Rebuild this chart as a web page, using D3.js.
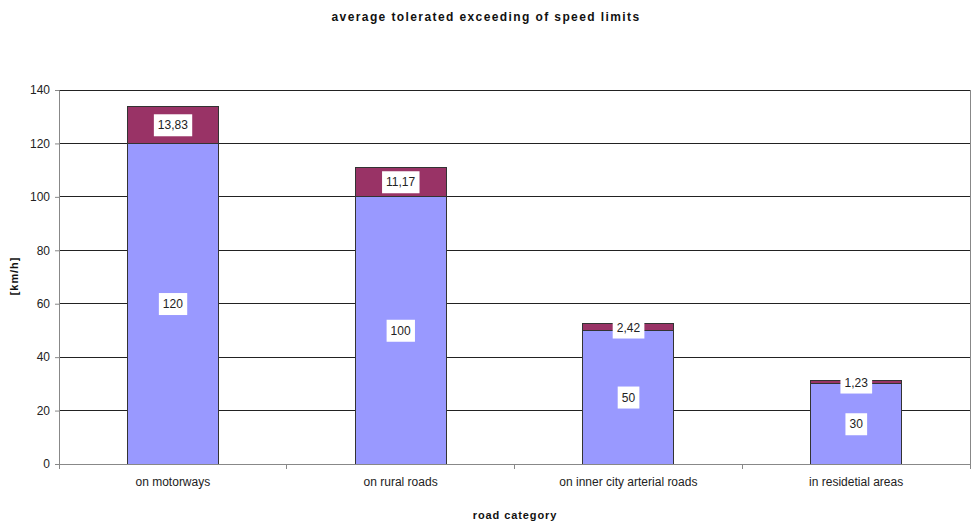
<!DOCTYPE html>
<html>
<head>
<meta charset="utf-8">
<script src="https://cdn.jsdelivr.net/npm/d3@7"></script>
<style>
  html, body { margin: 0; padding: 0; background: #fff; }
  svg { display: block; font-family: Arial, "Liberation Sans", sans-serif; }
</style>
</head>
<body>
<svg id="chart" width="972" height="522"></svg>
<script>
// Road categories and the two stacked series (km/h)
const categories = ["on motorways", "on rural roads", "on inner city arterial roads", "in residetial areas"];
const speedLimit = [120, 100, 50, 30];
const toleratedExceeding = [13.83, 11.17, 2.42, 1.23];
const yTicks = [0, 20, 40, 60, 80, 100, 120, 140];

const colors = { limit: "#9999ff", exceed: "#993366" };
const fmt = v => String(v).replace(".", ",");

const svg = d3.select("#chart");
const plot = { left: 59, right: 970, top: 90, bottom: 464 };

const x = d3.scaleBand()
  .domain(categories)
  .range([plot.left, plot.right])
  .paddingInner(0.6)
  .paddingOuter(0.3);

const y = d3.scaleLinear()
  .domain([0, 140])
  .range([plot.bottom, plot.top]);

// Horizontal gridlines
svg.append("g")
  .selectAll("line")
  .data(yTicks.filter(t => t > 0))
  .join("line")
  .attr("x1", plot.left).attr("x2", plot.right)
  .attr("y1", d => y(d)).attr("y2", d => y(d))
  .attr("stroke", "#222").attr("stroke-width", 1)
  .attr("shape-rendering", "crispEdges");

// Right border of the plot area
svg.append("line")
  .attr("x1", plot.right).attr("x2", plot.right)
  .attr("y1", plot.top).attr("y2", plot.bottom)
  .attr("stroke", "#888").attr("shape-rendering", "crispEdges");

// Stacked bars
const stackData = categories.map((c, i) => ({ cat: c, limit: speedLimit[i], exceed: toleratedExceeding[i] }));
const series = d3.stack().keys(["limit", "exceed"])(stackData);

const barGroups = svg.append("g")
  .selectAll("g")
  .data(series)
  .join("g")
  .attr("fill", d => colors[d.key]);

barGroups.selectAll("rect")
  .data(d => d)
  .join("rect")
  .attr("x", d => x(d.data.cat))
  .attr("width", x.bandwidth())
  .attr("y", d => y(d[1]))
  .attr("height", d => y(d[0]) - y(d[1]))
  .attr("stroke", "#333")
  .attr("stroke-width", 1)
  .attr("shape-rendering", "crispEdges");

// Y axis
const yAxis = svg.append("g")
  .attr("transform", `translate(${plot.left},0)`)
  .call(d3.axisLeft(y).tickValues(yTicks).tickSize(4).tickPadding(5));
yAxis.select(".domain").attr("stroke", "#888");
yAxis.selectAll(".tick line").attr("stroke", "#888");
yAxis.selectAll("text").attr("font-size", 12).attr("fill", "#222").attr("font-family", "Arial, 'Liberation Sans', sans-serif");

// X axis with ticks on category boundaries
const xAxisG = svg.append("g").attr("transform", `translate(0,${plot.bottom})`);
xAxisG.append("line")
  .attr("x1", plot.left).attr("x2", plot.right)
  .attr("stroke", "#888").attr("shape-rendering", "crispEdges");
const step = (plot.right - plot.left) / categories.length;
xAxisG.selectAll(".btick")
  .data(d3.range(categories.length + 1))
  .join("line")
  .attr("class", "btick")
  .attr("x1", i => plot.left + i * step).attr("x2", i => plot.left + i * step)
  .attr("y1", 0).attr("y2", 5)
  .attr("stroke", "#888").attr("shape-rendering", "crispEdges");
xAxisG.selectAll("text")
  .data(categories)
  .join("text")
  .attr("x", d => x(d) + x.bandwidth() / 2)
  .attr("y", 22)
  .attr("text-anchor", "middle")
  .attr("font-size", 12)
  .attr("fill", "#222")
  .text(d => d);

// Value labels in white boxes
const labels = [];
series.forEach(s => s.forEach(d => labels.push({
  cx: x(d.data.cat) + x.bandwidth() / 2,
  v: d[1] - d[0],
  mid: (d[0] + d[1]) / 2
})));

const lab = svg.append("g").selectAll("g").data(labels).join("g")
  .attr("transform", d => `translate(${d.cx},${y(d.mid)})`);
lab.append("text")
  .attr("text-anchor", "middle")
  .attr("dy", "0.36em")
  .attr("font-size", 12)
  .attr("fill", "#222")
  .text(d => fmt(+d.v.toFixed(2)));
lab.each(function() {
  const g = d3.select(this);
  const bb = g.select("text").node().getBBox();
  g.insert("rect", "text")
    .attr("x", bb.x - 4).attr("y", bb.y - 4)
    .attr("width", bb.width + 8).attr("height", bb.height + 8)
    .attr("fill", "#fff");
});

// Titles
svg.append("text")
  .attr("x", 486).attr("y", 21)
  .attr("text-anchor", "middle")
  .attr("font-size", 12).attr("font-weight", "bold")
  .attr("letter-spacing", 1.4)
  .attr("fill", "#111")
  .text("average tolerated exceeding of speed limits");

svg.append("text")
  .attr("x", 515).attr("y", 519)
  .attr("text-anchor", "middle")
  .attr("font-size", 11).attr("font-weight", "bold")
  .attr("letter-spacing", 0.9)
  .attr("fill", "#111")
  .text("road category");

svg.append("text")
  .attr("transform", "translate(18,276) rotate(-90)")
  .attr("text-anchor", "middle")
  .attr("font-size", 11).attr("font-weight", "bold")
  .attr("letter-spacing", 0.9)
  .attr("fill", "#111")
  .text("[km/h]");
</script>
</body>
</html>
